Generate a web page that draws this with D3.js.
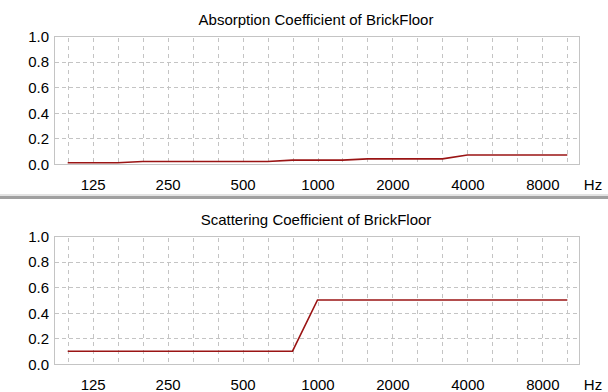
<!DOCTYPE html>
<html>
<head>
<meta charset="utf-8">
<script src="https://cdn.jsdelivr.net/npm/d3@7/dist/d3.min.js"></script>
<style>
  html, body { margin: 0; padding: 0; background: #ffffff; }
  svg { display: block; }
  text { font-family: "Liberation Sans", Arial, sans-serif; fill: #000; }
</style>
</head>
<body>
<svg id="chart" width="608" height="392"></svg>
<script>
// One-third-octave bands shown on the frequency axis
const bands = ["100","125","160","200","250","315","400","500","630","800","1000",
               "1250","1600","2000","2500","3150","4000","5000","6300","8000","10000"];
// Labelled octave bands
const bandLabels = ["125","250","500","1000","2000","4000","8000"];
// Coefficient axis ticks
const yTicks = [0, 0.2, 0.4, 0.6, 0.8, 1.0];

// Absorption coefficient per band
const absorption = [0.01, 0.01, 0.01, 0.02, 0.02, 0.02, 0.02, 0.02, 0.02, 0.03, 0.03,
                    0.03, 0.04, 0.04, 0.04, 0.04, 0.07, 0.07, 0.07, 0.07, 0.07];
// Scattering coefficient per band
const scattering = [0.1, 0.1, 0.1, 0.1, 0.1, 0.1, 0.1, 0.1, 0.1, 0.1, 0.5,
                    0.5, 0.5, 0.5, 0.5, 0.5, 0.5, 0.5, 0.5, 0.5, 0.5];

const panels = [
  { title: "Absorption Coefficient of BrickFloor", values: absorption, top: 0 },
  { title: "Scattering Coefficient of BrickFloor", values: scattering, top: 200 }
];

const svg = d3.select("#chart");
const frame = { left: 54, right: 580, top: 36, bottom: 164 };

const x = d3.scalePoint().domain(bands).range([67.7, 567.3]);
const y = d3.scaleLinear().domain([0, 1]).range([frame.bottom, frame.top]);
const fmt = d3.format(".1f");
const lineColor = "#9a1414";
const gridColor = "#c4c4c4";

panels.forEach(p => {
  const g = svg.append("g").attr("transform", `translate(0,${p.top})`);

  // title
  g.append("text")
    .attr("x", 316).attr("y", 25)
    .attr("text-anchor", "middle")
    .attr("font-size", 15)
    .text(p.title);

  // plot area
  g.append("rect")
    .attr("x", frame.left + 0.5).attr("y", frame.top + 0.5)
    .attr("width", frame.right - frame.left - 1)
    .attr("height", frame.bottom - frame.top)
    .attr("fill", "#fff")
    .attr("stroke", gridColor).attr("stroke-width", 1);

  // horizontal dashed grid
  g.append("g").selectAll("line")
    .data(yTicks.filter(d => d > 0 && d < 1))
    .join("line")
    .attr("x1", frame.left + 1).attr("x2", frame.right - 1)
    .attr("y1", d => Math.round(y(d)) + 0.5).attr("y2", d => Math.round(y(d)) + 0.5)
    .attr("stroke", gridColor).attr("stroke-dasharray", "4,3");

  // vertical dashed grid, one per band
  g.append("g").selectAll("line")
    .data(bands)
    .join("line")
    .attr("x1", d => Math.round(x(d)) + 0.5).attr("x2", d => Math.round(x(d)) + 0.5)
    .attr("y1", frame.top + 2).attr("y2", frame.bottom)
    .attr("stroke", gridColor).attr("stroke-dasharray", "4,4");

  // y axis labels
  const yAxis = g.append("g")
    .attr("transform", `translate(${frame.left},0)`)
    .call(d3.axisLeft(y).tickValues(yTicks).tickFormat(fmt).tickSize(0).tickPadding(5));
  yAxis.select(".domain").remove();
  yAxis.selectAll("text")
    .attr("font-size", 15).attr("font-family", "Liberation Sans, Arial, sans-serif")
    .attr("dy", "0.35em").attr("fill", "#000");

  // x axis labels
  const xAxis = g.append("g")
    .attr("transform", `translate(0,${frame.bottom})`)
    .call(d3.axisBottom(x).tickValues(bandLabels).tickSize(0).tickPadding(15));
  xAxis.select(".domain").remove();
  xAxis.selectAll("text")
    .attr("font-size", 15).attr("font-family", "Liberation Sans, Arial, sans-serif")
    .attr("fill", "#000");

  g.append("text")
    .attr("x", 593).attr("y", 190)
    .attr("text-anchor", "middle")
    .attr("font-size", 15)
    .text("Hz");

  // coefficient curve
  const line = d3.line()
    .x((d, i) => x(bands[i]))
    .y(d => y(d));
  g.append("path")
    .datum(p.values)
    .attr("d", line)
    .attr("fill", "none")
    .attr("stroke", lineColor)
    .attr("stroke-width", 1.6);
});

// splitter between the two panels
svg.append("rect").attr("x", 0).attr("y", 194).attr("width", 608).attr("height", 2).attr("fill", "#e2e2e2");
svg.append("rect").attr("x", 0).attr("y", 196).attr("width", 608).attr("height", 3).attr("fill", "#a0a0a0");
</script>
</body>
</html>
